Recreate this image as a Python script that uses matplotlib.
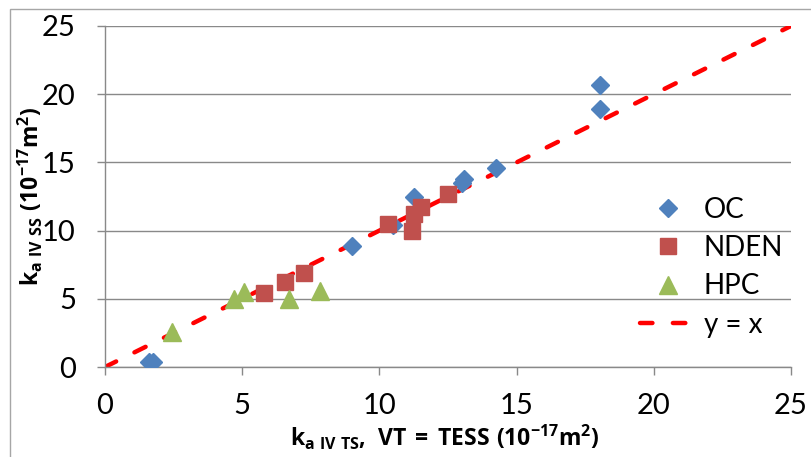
import numpy as np
import matplotlib
matplotlib.use("Agg")
import matplotlib.pyplot as plt

plt.rcParams['font.family'] = ['Lato', 'DejaVu Sans']
plt.rcParams['mathtext.fontset'] = 'custom'
plt.rcParams['mathtext.rm'] = 'Open Sans'
plt.rcParams['mathtext.bf'] = 'Open Sans:bold'

# values (10^-17 m^2)
oc_x = [1.6, 1.75, 9.0, 10.5, 11.25, 13.0, 13.1, 14.25, 18.05, 18.05]
oc_y = [0.4, 0.4, 8.9, 10.4, 12.5, 13.5, 13.75, 14.6, 18.9, 20.7]

nden_x = [5.8, 6.55, 7.25, 10.3, 11.2, 11.25, 11.5, 12.5]
nden_y = [5.4, 6.2, 6.9, 10.5, 10.0, 11.2, 11.75, 12.7]

hpc_x = [2.45, 4.7, 5.05, 6.7, 7.85]
hpc_y = [2.6, 5.0, 5.5, 5.0, 5.6]

ref_x = [0, 25]
ref_y = [0, 25]

ticks = [0, 5, 10, 15, 20, 25]

fig = plt.figure(figsize=(8.11, 4.57), dpi=100)
ax = fig.add_axes([105 / 811, 90 / 457, 686 / 811, 341 / 457])

grey = '#898989'
ax.plot(ref_x, ref_y, color='#FF0000', lw=3.2, dashes=(2.8, 4.6),
        dash_capstyle='round', label='y = x', zorder=2)
ax.plot(oc_x, oc_y, 'D', ms=9, color='#4F81BD', mec='#4F81BD', label='OC', zorder=3)
ax.plot(nden_x, nden_y, 's', ms=11.5, color='#C0504D', mec='#C0504D', label='NDEN', zorder=3)
ax.plot(hpc_x, hpc_y, '^', ms=13, color='#9BBB59', mec='#9BBB59', label='HPC', zorder=3)

ax.set_xlim(0, 25)
ax.set_ylim(0, 25)
ax.set_xticks(ticks)
ax.set_yticks(ticks)
ax.yaxis.grid(True, color=grey, lw=1.0)
ax.set_axisbelow(True)

for side in ['top', 'right']:
    ax.spines[side].set_visible(False)
for side in ['left', 'bottom']:
    ax.spines[side].set_color(grey)
    ax.spines[side].set_linewidth(1.0)
ax.tick_params(axis='both', colors=grey, length=6, width=1.0, labelcolor='black', labelsize=21)
ax.tick_params(axis='y', pad=15)
ax.tick_params(axis='x', pad=13)

ax.set_xlabel(r'$\mathbf{k_{a\ IV\ TS},\ VT\:{=}\:TESS\ (10^{-17}m^2)}$', fontsize=16.5)
ax.set_ylabel(r'$\mathbf{k_{a\ IV\ SS}\ (10^{-17}m^2)}$', fontsize=16.5)
ax.xaxis.set_label_coords(0.495, -0.165)
ax.yaxis.set_label_coords(-0.088, 0.5)

h, l = ax.get_legend_handles_labels()
order = [1, 2, 3, 0]
ax.legend([h[i] for i in order], [l[i] for i in order], loc='upper left',
          bbox_to_anchor=(0.78, 0.50), frameon=False, fontsize=20,
          handlelength=2.0, handletextpad=0.3, labelspacing=0.45,
          borderpad=0, borderaxespad=0)

# chart area border (left and top visible in the crop)
fig.patches.append(plt.Rectangle((9.5 / 811, -0.1), 1.2, (457 - 8.5) / 457 + 0.1,
                                 transform=fig.transFigure, fill=False,
                                 edgecolor='#A6A6A6', lw=1.0))

fig.savefig('out.png', dpi=100)
